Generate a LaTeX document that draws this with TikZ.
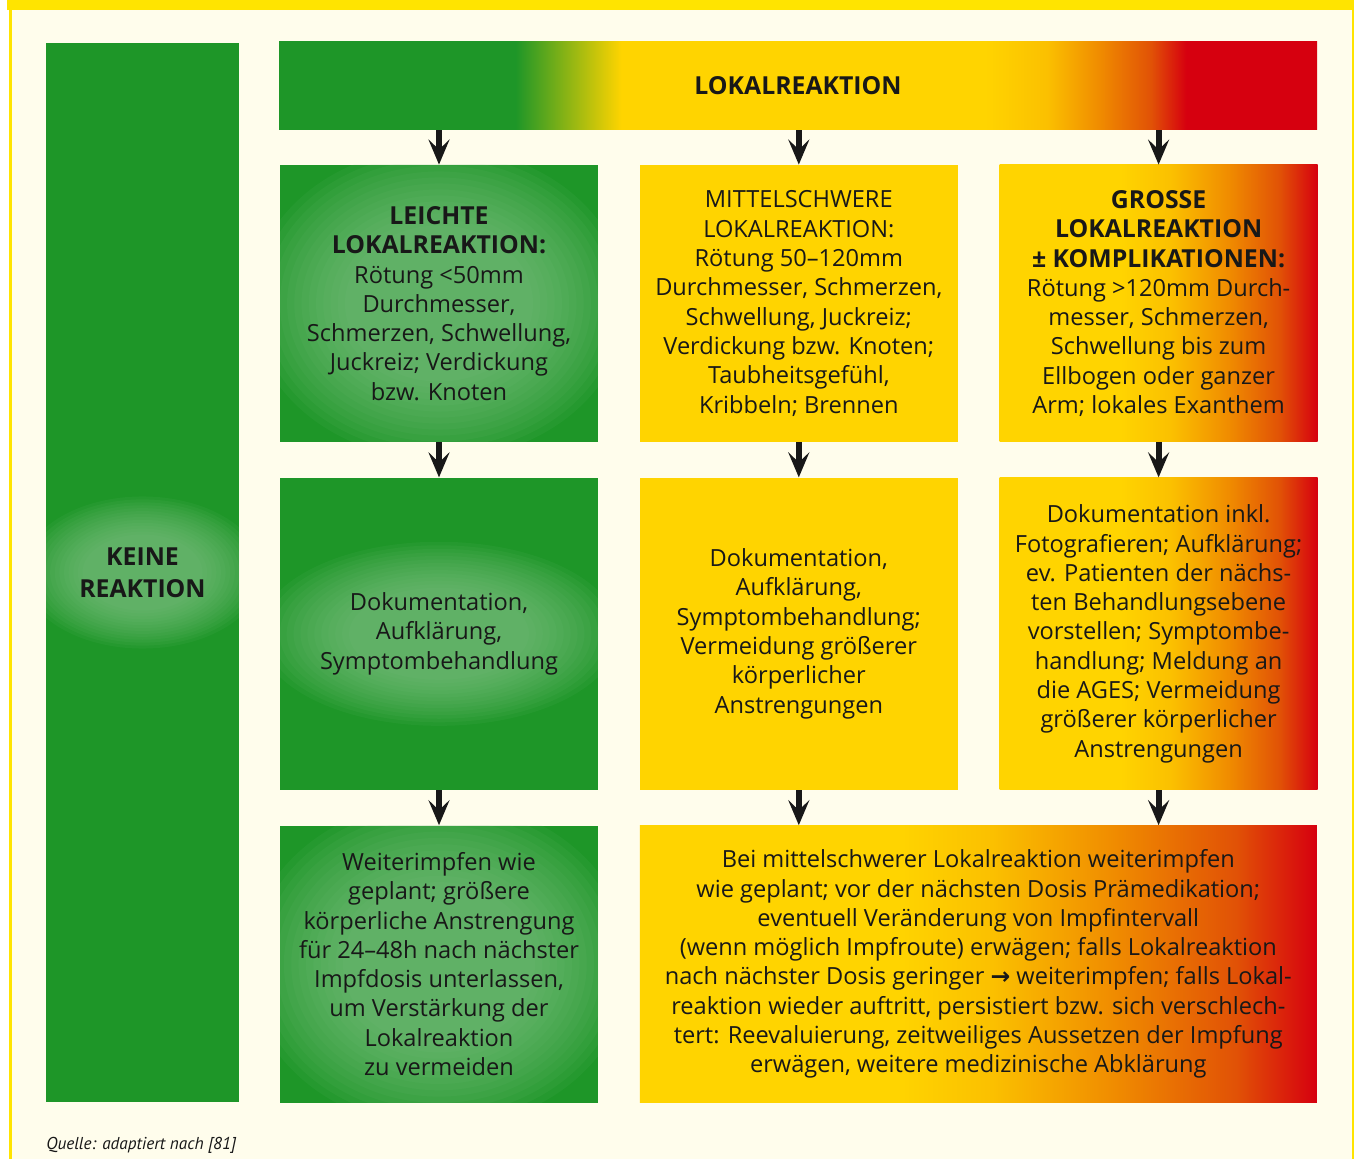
\documentclass[tikz,border=0pt]{standalone}
\usepackage{fontspec}
\setmainfont{Open Sans}
\newfontfamily\quellefont{PT Sans}
\newfontfamily\symfont{DejaVu Sans}
\usetikzlibrary{positioning, arrows.meta}

\definecolor{kgreen}{RGB}{30,150,40}
\definecolor{kyellow}{RGB}{255,212,0}
\definecolor{kyellowb}{RGB}{251,192,0}
\definecolor{korange}{RGB}{240,140,0}
\definecolor{kdeep}{RGB}{225,82,6}
\definecolor{kred}{RGB}{214,0,15}
\definecolor{paper}{RGB}{255,253,236}
\definecolor{frame}{RGB}{255,228,0}
\definecolor{ink}{RGB}{24,24,24}

% shadings: the path spans 25bp..75bp
\pgfdeclarehorizontalshading{barshade}{100bp}{color(0bp)=(kgreen); color(36.4bp)=(kgreen); color(41.5bp)=(kyellow); color(59bp)=(kyellow); color(62bp)=(kyellowb); color(64.5bp)=(korange); color(67bp)=(kdeep); color(68.7bp)=(kred); color(100bp)=(kred)}
\pgfdeclarehorizontalshading{grossshade}{100bp}{color(0bp)=(kyellow); color(44bp)=(kyellow); color(52bp)=(kyellowb); color(61bp)=(korange); color(69bp)=(kdeep); color(75bp)=(kred); color(100bp)=(kred)}
\pgfdeclarehorizontalshading{mixshade}{100bp}{color(0bp)=(kyellow); color(44bp)=(kyellow); color(51bp)=(kyellowb); color(60bp)=(korange); color(69bp)=(kdeep); color(75bp)=(kred); color(100bp)=(kred)}

\newcommand{\boxfont}{\fontsize{11.8pt}{14.65pt}\selectfont}
\newcommand{\head}[1]{{\fontsize{12.4pt}{14.65pt}\selectfont\bfseries #1}}

\tikzset{
  stage/.style={rectangle, inner sep=0pt, align=center, text=ink, font=\boxfont},
  cell/.style={stage, minimum width=159pt, minimum height=138.5pt},
  tallcell/.style={cell, minimum height=156pt},
  greencell/.style={fill=kgreen},
  yellowcell/.style={fill=kyellow},
  redcell/.style={shading=grossshade},
  glow/.style 2 args={path picture={\foreach \k in {0,...,13} \fill[kgreen!50!white, opacity=0.066] (path picture bounding box.center) ellipse [x radius={#1*(0.5+0.0385*\k)}, y radius={#2*(0.5+0.0385*\k)}];}},
  flow/.style={draw=ink, line width=3pt, -{Stealth[length=12.5pt, width=10.5pt, inset=5pt]}}
}

\begin{document}
\begin{tikzpicture}[x=0.5pt, y=-0.5pt]
\useasboundingbox (0,0) rectangle (1354,1159);
% page frame
\fill[paper] (12,10) rectangle (1352,1159);
\fill[frame] (7,0) rectangle (1354,10);
\fill[frame] (9,10) rectangle (12,1159);
\fill[frame] (1352,10) rectangle (1354,1159);

\node[stage, shading=barshade, minimum width=519pt, minimum height=44pt] (bar) at (798,86) {\head{LOKALREAKTION}};
\node[stage, greencell, minimum width=96.5pt, minimum height=529.5pt, glow={60pt}{38pt}] (keine) at (142.5,572.5) {\head{KEINE}\\[1.4pt]\head{REAKTION}};

% row 1
\node[cell, greencell, glow={94pt}{78pt}] (leicht) at (439,303.5) {\head{LEICHTE}\\\head{LOKALREAKTION:}\\R\"otung <50mm\\Durchmesser,\\Schmerzen, Schwellung,\\Juckreiz; Verdickung\\bzw. Knoten};
\node[cell, yellowcell, right=20.5pt of leicht] (mittel) {MITTELSCHWERE\\LOKALREAKTION:\\R\"otung 50--120mm\\Durchmesser, Schmerzen,\\Schwellung, Juckreiz;\\Verdickung bzw. Knoten;\\Taubheitsgef\"uhl,\\Kribbeln; Brennen};
\node[cell, redcell, right=20.5pt of mittel] (gross) {\head{GROSSE}\\\head{LOKALREAKTION}\\\head{± KOMPLIKATIONEN:}\\R\"otung >120mm Durch-\\messer, Schmerzen,\\Schwellung bis zum\\Ellbogen oder ganzer\\Arm; lokales Exanthem};

% row 2
\node[tallcell, greencell, glow={90pt}{46pt}, below=17.5pt of leicht] (leicht2) {Dokumentation,\\Aufkl\"arung,\\Symptombehandlung};
\node[tallcell, yellowcell, below=17.5pt of mittel] (mittel2) {Dokumentation,\\Aufkl\"arung,\\Symptombehandlung;\\Vermeidung gr\"o\ss erer\\k\"orperlicher\\Anstrengungen};
\node[tallcell, redcell, below=17.5pt of gross] (gross2) {Dokumentation inkl.\\Fotografieren; Aufkl\"arung;\\ev. Patienten der n\"achs-\\ten Behandlungsebene\\vorstellen; Symptombe-\\handlung; Meldung an\\die AGES; Vermeidung\\gr\"o\ss erer k\"orperlicher\\Anstrengungen};

% row 3
\node[cell, greencell, glow={96pt}{82pt}, below=17.5pt of leicht2] (leicht3) {Weiterimpfen wie\\geplant; gr\"o\ss ere\\k\"orperliche Anstrengung\\f\"ur 24--48h nach n\"achster\\Impfdosis unterlassen,\\um Verst\"arkung der\\Lokalreaktion\\zu vermeiden};
\node[cell, shading=mixshade, minimum width=338.5pt, anchor=north west] (weiter) at ([yshift=-17.5pt]mittel2.south west) {Bei mittelschwerer Lokalreaktion weiterimpfen\\wie geplant; vor der n\"achsten Dosis Pr\"amedikation;\\eventuell Ver\"anderung von Impfintervall\\(wenn m\"oglich Impfroute) erw\"agen; falls Lokalreaktion\\nach n\"achster Dosis geringer {\symfont\bfseries →} weiterimpfen; falls Lokal-\\reaktion wieder auftritt, persistiert bzw. sich verschlech-\\tert: Reevaluierung, zeitweiliges Aussetzen der Impfung\\erw\"agen, weitere medizinische Abkl\"arung};

\node[anchor=base west, inner sep=0pt, text=ink, font=\quellefont\fontsize{8.6pt}{10pt}\selectfont\itshape] (quelle) at (46,1149) {Quelle: adaptiert nach [81]};

% arrows
\draw[flow] (bar.south -| leicht.north) -- (leicht.north);
\draw[flow] (bar.south -| mittel.north) -- (mittel.north);
\draw[flow] (bar.south -| gross.north) -- (gross.north);
\draw[flow] (leicht.south) -- (leicht2.north);
\draw[flow] (mittel.south) -- (mittel2.north);
\draw[flow] (gross.south) -- (gross2.north);
\draw[flow] (leicht2.south) -- (leicht3.north);
\draw[flow] (mittel2.south) -- (mittel2.south |- weiter.north);
\draw[flow] (gross2.south) -- (gross2.south |- weiter.north);
\end{tikzpicture}
\end{document}
